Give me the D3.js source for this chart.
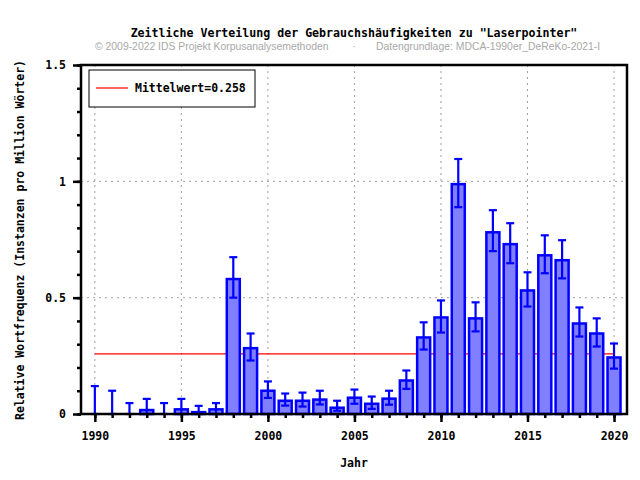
<!DOCTYPE html>
<html>
<head>
<meta charset="utf-8">
<script src="https://cdn.jsdelivr.net/npm/d3@7"></script>
<style>
  body { margin: 0; background: #fff; }
  text { font-family: "DejaVu Sans Mono", monospace; font-weight: bold; }
</style>
</head>
<body>
<div id="chart"></div>
<script>
// data
var years = [1990, 1991, 1992, 1993, 1994, 1995, 1996, 1997, 1998, 1999,
             2000, 2001, 2002, 2003, 2004, 2005, 2006, 2007, 2008, 2009,
             2010, 2011, 2012, 2013, 2014, 2015, 2016, 2017, 2018, 2019, 2020];
var values = [0, 0, 0, 0.017, 0, 0.02, 0.008, 0.02, 0.58, 0.283,
              0.10, 0.057, 0.057, 0.062, 0.027, 0.07, 0.044, 0.066, 0.144, 0.329,
              0.415, 0.988, 0.411, 0.781, 0.73, 0.531, 0.682, 0.661, 0.389, 0.346, 0.243];
var errHigh = [0.12, 0.10, 0.047, 0.065, 0.047, 0.065, 0.035, 0.047, 0.674, 0.346,
               0.14, 0.088, 0.092, 0.10, 0.057, 0.105, 0.075, 0.10, 0.187, 0.394,
               0.488, 1.096, 0.48, 0.876, 0.82, 0.609, 0.768, 0.747, 0.458, 0.411, 0.303];
var errLow = [0, 0, 0, 0, 0, 0, 0, 0, 0.50, 0.23,
              0.069, 0.036, 0.032, 0.041, 0.014, 0.044, 0.022, 0.04, 0.108, 0.277,
              0.35, 0.889, 0.355, 0.70, 0.648, 0.462, 0.605, 0.583, 0.333, 0.29, 0.195];
var meanValue = 0.258;
var yTicks = [0, 0.5, 1, 1.5];
var xTicks = [1990, 1995, 2000, 2005, 2010, 2015, 2020];

var width = 640, height = 480;
var margin = {top: 65, right: 13, bottom: 66, left: 81};
var w = width - margin.left - margin.right,
    h = height - margin.top - margin.bottom;

var svg = d3.select("#chart").append("svg")
    .attr("width", width)
    .attr("height", height);

var g = svg.append("g")
    .attr("transform", "translate(" + margin.left + "," + margin.top + ")");

var xScale = d3.scaleLinear().domain([1989.2, 2020.75]).range([0, w]);
var yScale = d3.scaleLinear().domain([0, 1.5]).range([h, 0]);

//grid
g.selectAll("line.vgrid")
    .data(xTicks)
    .enter().append("line")
    .attr("x1", function(d) { return xScale(d); })
    .attr("x2", function(d) { return xScale(d); })
    .attr("y1", 0).attr("y2", h)
    .attr("stroke", "#a0a0a0").attr("stroke-width", 1)
    .attr("stroke-dasharray", "2,4");
g.selectAll("line.hgrid")
    .data([0.5, 1])
    .enter().append("line")
    .attr("x1", 0).attr("x2", w)
    .attr("y1", function(d) { return yScale(d); })
    .attr("y2", function(d) { return yScale(d); })
    .attr("stroke", "#a0a0a0").attr("stroke-width", 1)
    .attr("stroke-dasharray", "2,4");

//mean line
g.append("line")
    .attr("x1", xScale(1990)).attr("x2", xScale(2020))
    .attr("y1", yScale(meanValue)).attr("y2", yScale(meanValue))
    .attr("stroke", "#ff0000").attr("stroke-width", 1.2);

//bars
var barW = 13;
g.selectAll("rect.bar")
    .data(years)
    .enter().append("rect")
    .attr("class", "bar")
    .attr("x", function(d) { return xScale(d) - barW / 2; })
    .attr("y", function(d, i) { return yScale(values[i]); })
    .attr("width", barW)
    .attr("height", function(d, i) { return h - yScale(values[i]); })
    .attr("fill", "#8080ff")
    .attr("stroke", "#0000ff")
    .attr("stroke-width", 2.5)
    .style("display", function(d, i) { return values[i] > 0 ? null : "none"; });

//error bars
var capW = 4;
var eb = g.selectAll("g.err").data(years).enter().append("g");
eb.append("line")
    .attr("x1", function(d) { return xScale(d); })
    .attr("x2", function(d) { return xScale(d); })
    .attr("y1", function(d, i) { return yScale(errLow[i]); })
    .attr("y2", function(d, i) { return yScale(errHigh[i]); });
eb.append("line")
    .attr("x1", function(d) { return xScale(d) - capW; })
    .attr("x2", function(d) { return xScale(d) + capW; })
    .attr("y1", function(d, i) { return yScale(errHigh[i]); })
    .attr("y2", function(d, i) { return yScale(errHigh[i]); });
eb.append("line")
    .attr("x1", function(d) { return xScale(d) - capW; })
    .attr("x2", function(d) { return xScale(d) + capW; })
    .attr("y1", function(d, i) { return yScale(errLow[i]); })
    .attr("y2", function(d, i) { return yScale(errLow[i]); });
eb.selectAll("line").attr("stroke", "#0000ff").attr("stroke-width", 2.2);

//frame
g.append("rect")
    .attr("x", 0).attr("y", 0).attr("width", w).attr("height", h)
    .attr("fill", "none").attr("stroke", "#000").attr("stroke-width", 2.5);

//axes
var xAxis = d3.axisBottom(xScale).tickValues(xTicks).tickFormat(d3.format("d")).tickSize(8).tickPadding(10);
var xMinor = d3.axisBottom(xScale).tickValues(years).tickFormat("").tickSize(4);
var yAxis = d3.axisLeft(yScale).tickValues(yTicks).tickFormat(function(d) { return d === 0 || d === 1 ? d : d3.format(".1f")(d); }).tickSize(8).tickPadding(7);
var yMinor = d3.axisLeft(yScale).tickValues(d3.range(0, 16).map(function(i) { return i / 10; })).tickFormat("").tickSize(4);

[xMinor, xAxis].forEach(function(ax) {
  g.append("g").attr("transform", "translate(0," + h + ")").call(ax);
});
[yMinor, yAxis].forEach(function(ax) {
  g.append("g").call(ax);
});
g.selectAll(".domain").remove();
g.selectAll(".tick line").attr("stroke", "#000").attr("stroke-width", 2.5);
g.selectAll(".tick text").attr("fill", "#000").style("font-size", "11.5px")
    .style("font-family", "'DejaVu Sans Mono', monospace").style("font-weight", "bold");

//legend
g.append("rect")
    .attr("x", 8).attr("y", 5).attr("width", 166).attr("height", 37)
    .attr("fill", "#fff").attr("stroke", "#000").attr("stroke-width", 1);
g.append("line")
    .attr("x1", 15).attr("x2", 47).attr("y1", 23).attr("y2", 23)
    .attr("stroke", "#ff0000").attr("stroke-width", 1.2);
g.append("text")
    .attr("x", 54).attr("y", 27)
    .style("font-size", "11.5px")
    .text("Mittelwert=" + meanValue);

//titles
svg.append("text")
    .attr("x", 354).attr("y", 37)
    .attr("text-anchor", "middle")
    .style("font-size", "11.6px")
    .text("Zeitliche Verteilung der Gebrauchshäufigkeiten zu \"Laserpointer\"");
svg.append("text")
    .attr("x", 95).attr("y", 50)
    .style("font-family", "'Liberation Sans', Arial, sans-serif").style("font-weight", "normal")
    .style("font-size", "10.4px").attr("fill", "#a8a8a8")
    .text("© 2009-2022 IDS Projekt Korpusanalysemethoden");
svg.append("text")
    .attr("x", 354).attr("y", 50).attr("text-anchor", "middle")
    .style("font-family", "'Liberation Sans', Arial, sans-serif").style("font-weight", "normal")
    .style("font-size", "10.4px").attr("fill", "#a8a8a8")
    .text("·");
svg.append("text")
    .attr("x", 376).attr("y", 50)
    .style("font-family", "'Liberation Sans', Arial, sans-serif").style("font-weight", "normal")
    .style("font-size", "10.4px").attr("fill", "#a8a8a8")
    .text("Datengrundlage: MDCA-1990er_DeReKo-2021-I");

//axis labels
svg.append("text")
    .attr("x", 354).attr("y", 467)
    .attr("text-anchor", "middle")
    .style("font-size", "11.5px")
    .text("Jahr");
svg.append("text")
    .attr("text-anchor", "middle")
    .attr("transform", "translate(24,240)rotate(-90)")
    .style("font-size", "11.5px")
    .text("Relative Wortfrequenz (Instanzen pro Million Wörter)");
</script>
</body>
</html>
